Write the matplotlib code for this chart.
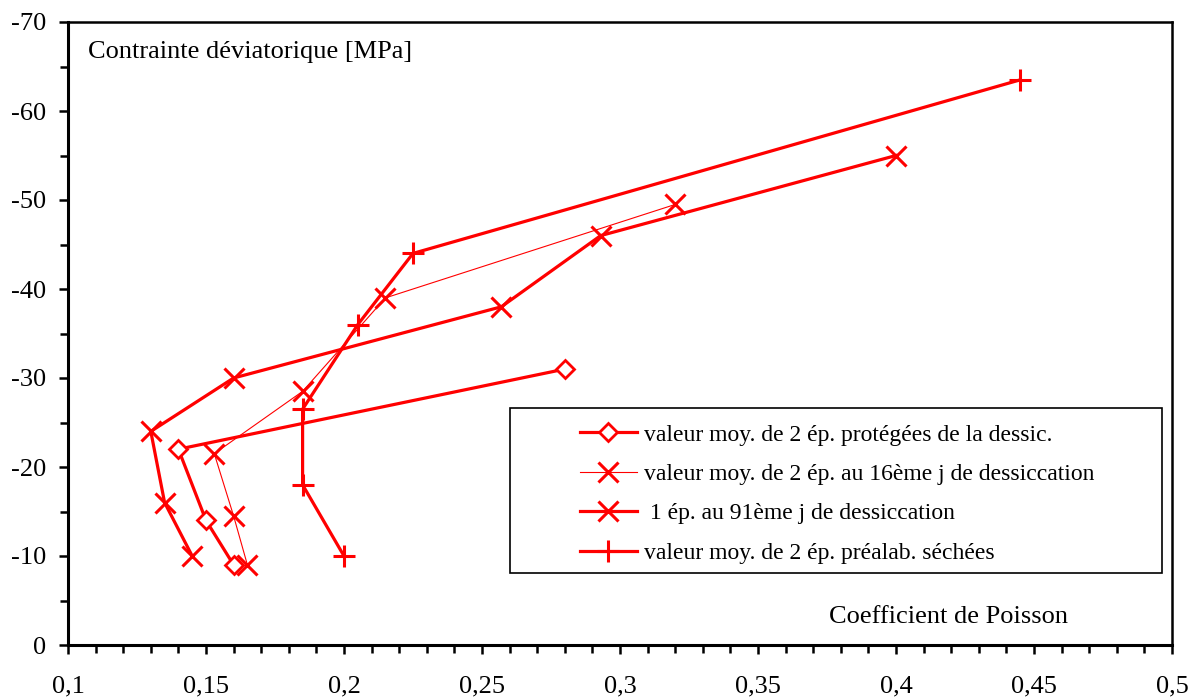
import matplotlib
matplotlib.use("Agg")
import matplotlib.pyplot as plt
from matplotlib.patches import Rectangle
from matplotlib.ticker import MultipleLocator, FixedLocator, FixedFormatter

plt.rcParams['font.family'] = ['Liberation Serif', 'DejaVu Serif']

# Poisson coefficient (x) vs deviatoric stress in MPa (y)
prot_x = [0.28, 0.14, 0.15, 0.16]
prot_y = [-31.0, -22.0, -14.0, -9.0]

j16_x = [0.32, 0.215, 0.185, 0.153, 0.16, 0.165]
j16_y = [-49.5, -39.0, -28.5, -21.5, -14.5, -9.0]

j91_x = [0.40, 0.293, 0.257, 0.16, 0.13, 0.135, 0.145]
j91_y = [-55.0, -46.0, -38.0, -30.0, -24.0, -16.0, -10.0]

sech_x = [0.445, 0.225, 0.205, 0.185, 0.185, 0.20]
sech_y = [-63.5, -44.0, -36.0, -26.5, -18.0, -10.0]

labels = [
    "valeur moy. de 2 ép. protégées de la dessic.",
    "valeur moy. de 2 ép. au 16ème j de dessiccation",
    " 1 ép. au 91ème j de dessiccation",
    "valeur moy. de 2 ép. préalab. séchées",
]

x_ticks = [0.1, 0.15, 0.2, 0.25, 0.3, 0.35, 0.4, 0.45, 0.5]
x_tick_labels = ["0,1", "0,15", "0,2", "0,25", "0,3", "0,35", "0,4", "0,45", "0,5"]
y_ticks = [0, -10, -20, -30, -40, -50, -60, -70]
y_tick_labels = ["0", "-10", "-20", "-30", "-40", "-50", "-60", "-70"]

red = "#ff0000"
W, H = 1196, 700

fig = plt.figure(figsize=(W / 100, H / 100), dpi=100)
ax = fig.add_axes([68 / W, 55 / H, (1172 - 68) / W, (645 - 22) / H])

ax.plot(prot_x, prot_y, color=red, lw=2.3, marker="D", ms=9.5, mfc="white",
        mec=red, mew=2.0, label=labels[0])
ax.plot(j16_x, j16_y, color=red, lw=0.8, marker="x", ms=14, mec=red,
        mew=2.2, label=labels[1])
ax.plot(j91_x, j91_y, color=red, lw=2.3, marker="x", ms=14, mec=red,
        mew=2.2, label=labels[2])
ax.plot(sech_x, sech_y, color=red, lw=2.3, marker="+", ms=16, mec=red,
        mew=2.2, label=labels[3])

ax.set_xlim(0.1, 0.5)
ax.set_ylim(0, -70)

ax.xaxis.set_major_locator(FixedLocator(x_ticks))
ax.xaxis.set_major_formatter(FixedFormatter(x_tick_labels))
ax.xaxis.set_minor_locator(MultipleLocator(0.01))
ax.yaxis.set_major_locator(FixedLocator(y_ticks))
ax.yaxis.set_major_formatter(FixedFormatter(y_tick_labels))
ax.yaxis.set_minor_locator(MultipleLocator(5))

ax.tick_params(axis="both", which="major", direction="out", length=6.5, width=1.8,
               labelsize=19, colors="black")
ax.tick_params(axis="both", which="minor", direction="out", length=5.5, width=1.8)
ax.tick_params(axis="x", which="major", pad=15.5)
ax.tick_params(axis="y", which="major", pad=9)

for side in ["left", "bottom"]:
    ax.spines[side].set_linewidth(2.2)
for side in ["top", "right"]:
    ax.spines[side].set_linewidth(1.8)

ax.text(0.018, 0.952, "Contrainte déviatorique [MPa]",
        transform=ax.transAxes, fontsize=19, ha="left", va="center")
ax.text(0.906, 0.045, "Coefficient de Poisson", transform=ax.transAxes,
        fontsize=19, ha="right", va="center")

# legend entries without their own frame, boxed by a separate rectangle
leg = ax.legend(loc="upper left", bbox_to_anchor=(580 / W, 1 - 424 / H),
                bbox_transform=fig.transFigure, fontsize=17, frameon=False,
                borderpad=0, labelspacing=0.76, handlelength=2.4,
                handletextpad=0.3, borderaxespad=0)
box = Rectangle((510 / W, 1 - 573 / H), (1162 - 510) / W, (573 - 408) / H,
                transform=fig.transFigure, fill=False, edgecolor="black",
                linewidth=1.2, zorder=4)
fig.add_artist(box)

fig.savefig("out.png", dpi=100)
